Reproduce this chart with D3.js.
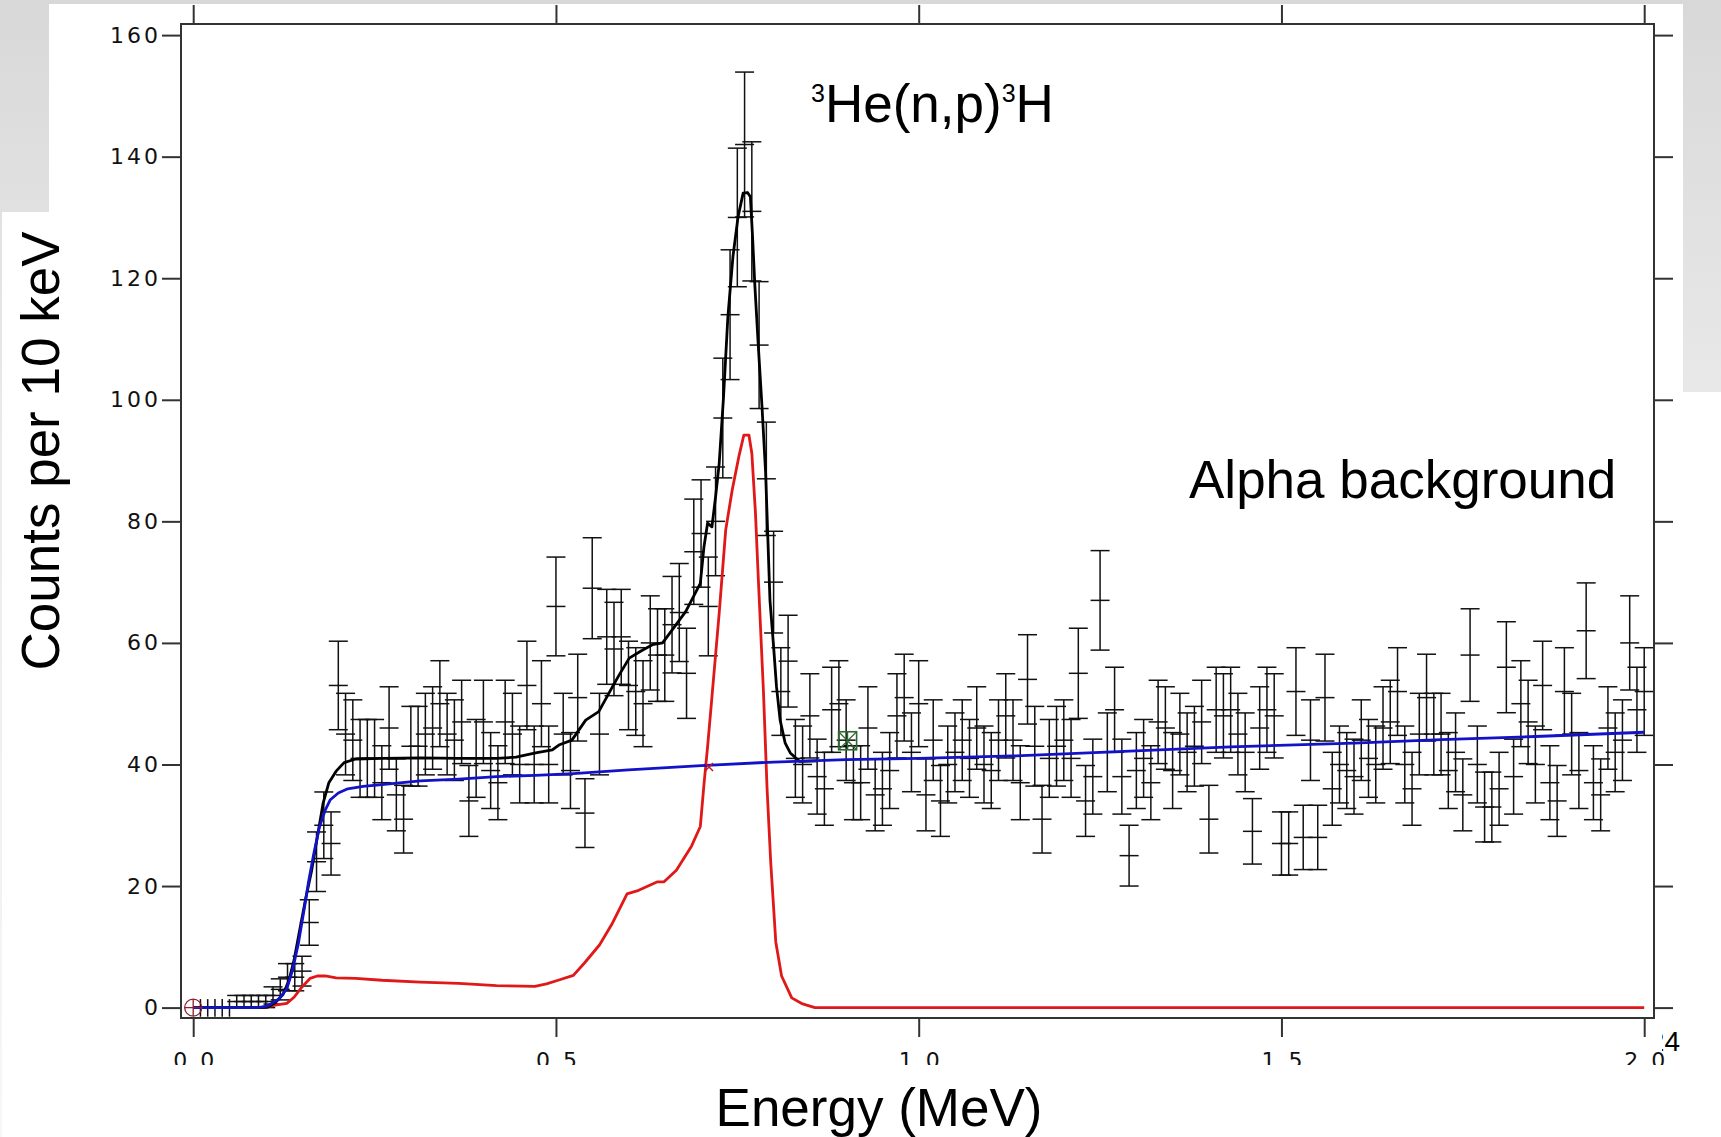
<!DOCTYPE html>
<html>
<head>
<meta charset="utf-8">
<script src="https://cdn.jsdelivr.net/npm/d3@7"></script>
<style>
  body { margin: 0; background: #fff; }
  svg { display: block; }
</style>
</head>
<body>
<script>
// measured spectrum, counts per 10 keV bin, bins at 0.01 ... 2.00 MeV
var counts = [
  0, 0, 0, 0, 0, 1, 1, 1, 1, 1,
  2, 3, 5, 5, 6, 14, 24, 30, 27, 53,
  45, 44, 41, 41, 41, 37, 46, 35, 31, 43,
  43, 45, 46, 50, 45, 44, 47, 34, 41, 47,
  39, 37, 47, 45, 40, 53, 40, 50, 40, 66,
  45, 39, 51, 32, 69, 45, 61, 59, 61, 53,
  52, 50, 60, 58, 58, 63, 65, 55, 75, 78,
  66, 80, 97, 114, 130, 142, 131, 109, 87, 70,
  52, 57, 41, 40, 48, 38, 36, 49, 50, 44,
  37, 37, 46, 35, 36, 39, 48, 51, 42, 50,
  35, 44, 34, 40, 42, 44, 41, 46, 40, 39,
  44, 48, 44, 37, 54, 43, 31, 41, 43, 44,
  41, 55, 34, 38, 67, 42, 49, 38, 25, 39,
  41, 37, 47, 46, 39, 45, 42, 43, 47, 31,
  49, 48, 49, 45, 42, 29, 46, 49, 48, 27,
  27, 52, 28, 44, 28, 51, 36, 40, 39, 38,
  44, 41, 40, 46, 47, 52, 40, 36, 45, 51,
  45, 45, 39, 42, 35, 58, 40, 33, 33, 36,
  56, 38, 50, 47, 40, 53, 37, 34, 52, 45,
  39, 62, 37, 35, 46, 42, 44, 60, 49, 52
];
var binWidth = 0.01;

// total fit (black)
var totalE = [0, 0.09, 0.103, 0.113, 0.124, 0.132, 0.139, 0.147, 0.155, 0.163, 0.171, 0.179, 0.187, 0.197, 0.208,
  0.224, 0.26, 0.313, 0.366, 0.418, 0.445, 0.472, 0.495, 0.504, 0.522, 0.541, 0.559, 0.578, 0.587, 0.601, 0.619,
  0.633, 0.647, 0.66, 0.679, 0.692, 0.699, 0.704, 0.709, 0.715, 0.72, 0.725, 0.731, 0.737, 0.744, 0.751, 0.758,
  0.764, 0.768, 0.771, 0.774, 0.779, 0.784, 0.789, 0.795, 0.8, 0.804, 0.809, 0.816, 0.823, 0.836, 0.86];
var totalY = [0, 0, 0.1, 0.8, 2.2, 4.5, 7.8, 12.9, 17.9, 22.4, 28, 33.6, 37, 38.9, 40.3,
  40.9, 41, 41.1, 41, 41, 41.2, 41.9, 42.4, 43.2, 44, 47.3, 48.7, 52.8, 54.7, 57.5, 58.8,
  59.7, 60, 62.1, 65.2, 68.2, 69.8, 75.8, 79.7, 79.1, 84, 89.5, 100.5, 113.7, 123.6, 130.1, 134,
  134.1, 133.4, 126.8, 119.2, 108.7, 98.9, 88, 67, 59.4, 52.8, 47.3, 43.5, 41.9, 40.5, 40.6];

// alpha background (blue)
var alphaE = [0, 0.09, 0.103, 0.118, 0.129, 0.137, 0.145, 0.153, 0.159, 0.166, 0.174, 0.182, 0.189, 0.2, 0.213,
  0.234, 0.26, 0.313, 0.366, 0.418, 0.471, 0.524, 0.6, 0.7, 0.8, 0.9, 1.0, 1.13, 1.25, 1.43, 1.6, 1.72, 1.85, 2.0];
var alphaY = [0, 0, 0.3, 1.4, 3.1, 6.2, 10.6, 16.2, 20.7, 25.2, 29.7, 32.5, 34.2, 35.3, 36,
  36.4, 36.7, 37.3, 37.6, 38, 38.2, 38.5, 39.1, 39.8, 40.4, 40.8, 41, 41.4, 42, 42.9, 43.5, 44.1, 44.6, 45.3];

// 3He(n,p)3H component (red)
var heE = [0, 0.097, 0.113, 0.129, 0.139, 0.15, 0.161, 0.171, 0.182, 0.197, 0.224, 0.26, 0.313, 0.366, 0.418,
  0.471, 0.487, 0.503, 0.524, 0.539, 0.56, 0.577, 0.598, 0.614, 0.64, 0.649, 0.666, 0.687, 0.699, 0.704,
  0.709, 0.715, 0.725, 0.734, 0.743, 0.752, 0.759, 0.766, 0.77, 0.775, 0.779, 0.786, 0.791, 0.796, 0.803,
  0.811, 0.825, 0.84, 0.857, 2.0];
var heY = [0, 0, 0.4, 0.7, 1.7, 3.4, 4.8, 5.2, 5.2, 4.9, 4.8, 4.5, 4.2, 4.0, 3.6,
  3.5, 3.9, 4.5, 5.3, 7.3, 10.3, 13.7, 18.7, 19.3, 20.7, 20.7, 22.6, 26.6, 29.8, 36.7,
  42.9, 51.1, 64.9, 78.6, 85.2, 90.6, 94.2, 94.2, 91.2, 81.4, 70.4, 52, 36, 24, 10.8,
  5.2, 1.6, 0.6, 0, 0];

// odd markers on the plot
var circleMark = [0, 0];
var squareMark = [0.902, 43.9];
var redMark = [0.711, 39.6];

var xTicks = [0, 0.5, 1.0, 1.5, 2.0];
var yTicks = [0, 20, 40, 60, 80, 100, 120, 140, 160];

var W = 1721, H = 1137;
var frame = { x0: 181, x1: 1654, y0: 24, y1: 1018 };

var x = d3.scaleLinear().domain([0, 2]).range([193.2, 1644.2]);
var y = d3.scaleLinear().domain([0, 160]).range([1007.6, 35.1]);

var svg = d3.select("body").append("svg")
  .attr("width", W)
  .attr("height", H);

var defs = svg.append("defs");
var grad = defs.append("linearGradient").attr("id", "bg")
  .attr("x1", 0).attr("y1", 0).attr("x2", 0).attr("y2", 1);
grad.append("stop").attr("offset", "0%").attr("stop-color", "#d8d8d8");
grad.append("stop").attr("offset", "40%").attr("stop-color", "#ebebeb");
grad.append("stop").attr("offset", "100%").attr("stop-color", "#f7f7f7");

defs.append("clipPath").attr("id", "plotclip")
  .append("rect")
  .attr("x", frame.x0).attr("y", frame.y0)
  .attr("width", frame.x1 - frame.x0).attr("height", frame.y1 - frame.y0);
defs.append("clipPath").attr("id", "xlabclip")
  .append("rect").attr("x", 0).attr("y", 0).attr("width", W).attr("height", 1065);
defs.append("clipPath").attr("id", "pageclip")
  .append("rect").attr("x", 1662).attr("y", 0).attr("width", 100).attr("height", H);

// slide background, the plot image sits on top of it
svg.append("rect").attr("width", W).attr("height", H).attr("fill", "url(#bg)");
svg.append("rect").attr("x", 49).attr("y", 4).attr("width", 1634).attr("height", H - 4).attr("fill", "#fff");
svg.append("rect").attr("x", 2).attr("y", 212).attr("width", 47).attr("height", H - 212).attr("fill", "#fff");
svg.append("rect").attr("x", 1683).attr("y", 392).attr("width", W - 1683).attr("height", H - 392).attr("fill", "#fff");

// slide number, mostly hidden behind the figure
svg.append("text")
  .attr("clip-path", "url(#pageclip)")
  .attr("x", 1680).attr("y", 1051)
  .attr("text-anchor", "end")
  .attr("font-family", "Liberation Sans, Arial, sans-serif")
  .attr("font-size", 28)
  .text("24");

// axes
var tickFont = "DejaVu Sans, Verdana, sans-serif";
var ls = 3;
function styleAxis(g) {
  g.select(".domain").remove();
  g.selectAll(".tick line").attr("stroke", "#333").attr("stroke-width", 2);
  g.selectAll(".tick text")
    .attr("font-family", tickFont)
    .attr("font-size", 22)
    .attr("letter-spacing", ls)
    .attr("fill", "#111");
}

svg.append("g")
  .attr("transform", "translate(" + frame.x0 + ",0)")
  .call(d3.axisLeft(y).tickValues(yTicks).tickSize(19).tickPadding(4))
  .call(styleAxis)
  .selectAll(".tick text").attr("dx", ls);

svg.append("g")
  .attr("transform", "translate(" + frame.x1 + ",0)")
  .call(d3.axisRight(y).tickValues(yTicks).tickSize(19).tickFormat(""))
  .call(styleAxis);

svg.append("g")
  .attr("transform", "translate(0," + frame.y0 + ")")
  .call(d3.axisTop(x).tickValues(xTicks).tickSize(19).tickFormat(""))
  .call(styleAxis);

svg.append("g").attr("clip-path", "url(#xlabclip)")
  .append("g")
  .attr("transform", "translate(0," + frame.y1 + ")")
  .call(d3.axisBottom(x).tickValues(xTicks).tickSize(19).tickPadding(15).tickFormat(d3.format(".1f")))
  .call(styleAxis)
  .selectAll(".tick text").attr("dx", ls / 2);

// data with error bars
var plot = svg.append("g").attr("clip-path", "url(#plotclip)");
var cap = 9.5;
var pts = counts.map(function (c, i) { return { e: (i + 1) * binWidth, c: c }; });

var bars = plot.append("g").attr("stroke", "#111").attr("stroke-width", 1.5).attr("fill", "none");
pts.forEach(function (d) {
  var px = x(d.e);
  if (d.c === 0) {
    bars.append("line").attr("x1", px).attr("x2", px).attr("y1", y(1.4)).attr("y2", y(-1.5));
    return;
  }
  var err = Math.sqrt(d.c);
  var yt = y(d.c + err), yb = y(d.c - err), ym = y(d.c);
  bars.append("line").attr("x1", px).attr("x2", px).attr("y1", yt).attr("y2", yb);
  [yt, ym, yb].forEach(function (yy) {
    bars.append("line").attr("x1", px - cap).attr("x2", px + cap).attr("y1", yy).attr("y2", yy);
  });
});

// fit curves
function curve(es, vs, color) {
  var line = d3.line().x(function (d) { return x(d[0]); }).y(function (d) { return y(d[1]); });
  plot.append("path")
    .datum(es.map(function (e, i) { return [e, vs[i]]; }))
    .attr("d", line)
    .attr("fill", "none")
    .attr("stroke", color)
    .attr("stroke-width", 2.8)
    .attr("stroke-linejoin", "round");
}
curve(heE, heY, "#e01818");
curve(totalE, totalY, "#000");
curve(alphaE, alphaY, "#1212c8");

// markers
plot.append("circle")
  .attr("cx", x(circleMark[0])).attr("cy", y(circleMark[1])).attr("r", 8.5)
  .attr("fill", "none").attr("stroke", "#8a2030").attr("stroke-width", 1.3);
plot.append("path")
  .attr("d", "M" + (x(circleMark[0]) - 8.5) + "," + y(circleMark[1]) + "h17M" + x(circleMark[0]) + "," + (y(circleMark[1]) - 8.5) + "v17")
  .attr("stroke", "#8a2030").attr("stroke-width", 1.3);

var sx = x(squareMark[0]), sy = y(squareMark[1]), s = 9;
plot.append("rect")
  .attr("x", sx - s).attr("y", sy - s).attr("width", 2 * s).attr("height", 2 * s)
  .attr("fill", "none").attr("stroke", "#2d6a2d").attr("stroke-width", 1.6);
plot.append("path")
  .attr("d", "M" + (sx - s) + "," + (sy - s) + "L" + (sx + s) + "," + (sy + s) + "M" + (sx + s) + "," + (sy - s) + "L" + (sx - s) + "," + (sy + s) +
    "M" + sx + "," + (sy - s) + "V" + (sy + s))
  .attr("stroke", "#2d6a2d").attr("stroke-width", 1.2);

var rx = x(redMark[0]), ry = y(redMark[1]);
plot.append("path")
  .attr("d", "M" + (rx - 4) + "," + (ry - 4) + "L" + (rx + 4) + "," + (ry + 4) + "M" + (rx + 4) + "," + (ry - 4) + "L" + (rx - 4) + "," + (ry + 4))
  .attr("stroke", "#c01830").attr("stroke-width", 1.5);

// frame
svg.append("rect")
  .attr("x", frame.x0).attr("y", frame.y0)
  .attr("width", frame.x1 - frame.x0).attr("height", frame.y1 - frame.y0)
  .attr("fill", "none").attr("stroke", "#333").attr("stroke-width", 2);

// labels
var bigFont = "Liberation Sans, Arial, sans-serif";
svg.append("text")
  .attr("x", 879).attr("y", 1126)
  .attr("text-anchor", "middle")
  .attr("font-family", bigFont).attr("font-size", 53)
  .text("Energy (MeV)");

svg.append("text")
  .attr("transform", "translate(59,451) rotate(-90)")
  .attr("text-anchor", "middle")
  .attr("font-family", bigFont).attr("font-size", 53)
  .text("Counts per 10 keV");

var react = svg.append("text")
  .attr("x", 811).attr("y", 122)
  .attr("font-family", bigFont).attr("font-size", 53);
react.append("tspan").attr("font-size", 25).attr("dy", -20).text("3");
react.append("tspan").attr("dy", 20).text("He(n,p)");
react.append("tspan").attr("font-size", 25).attr("dy", -20).text("3");
react.append("tspan").attr("dy", 20).text("H");

svg.append("text")
  .attr("x", 1189).attr("y", 498)
  .attr("font-family", bigFont).attr("font-size", 53)
  .text("Alpha background");
</script>
</body>
</html>
